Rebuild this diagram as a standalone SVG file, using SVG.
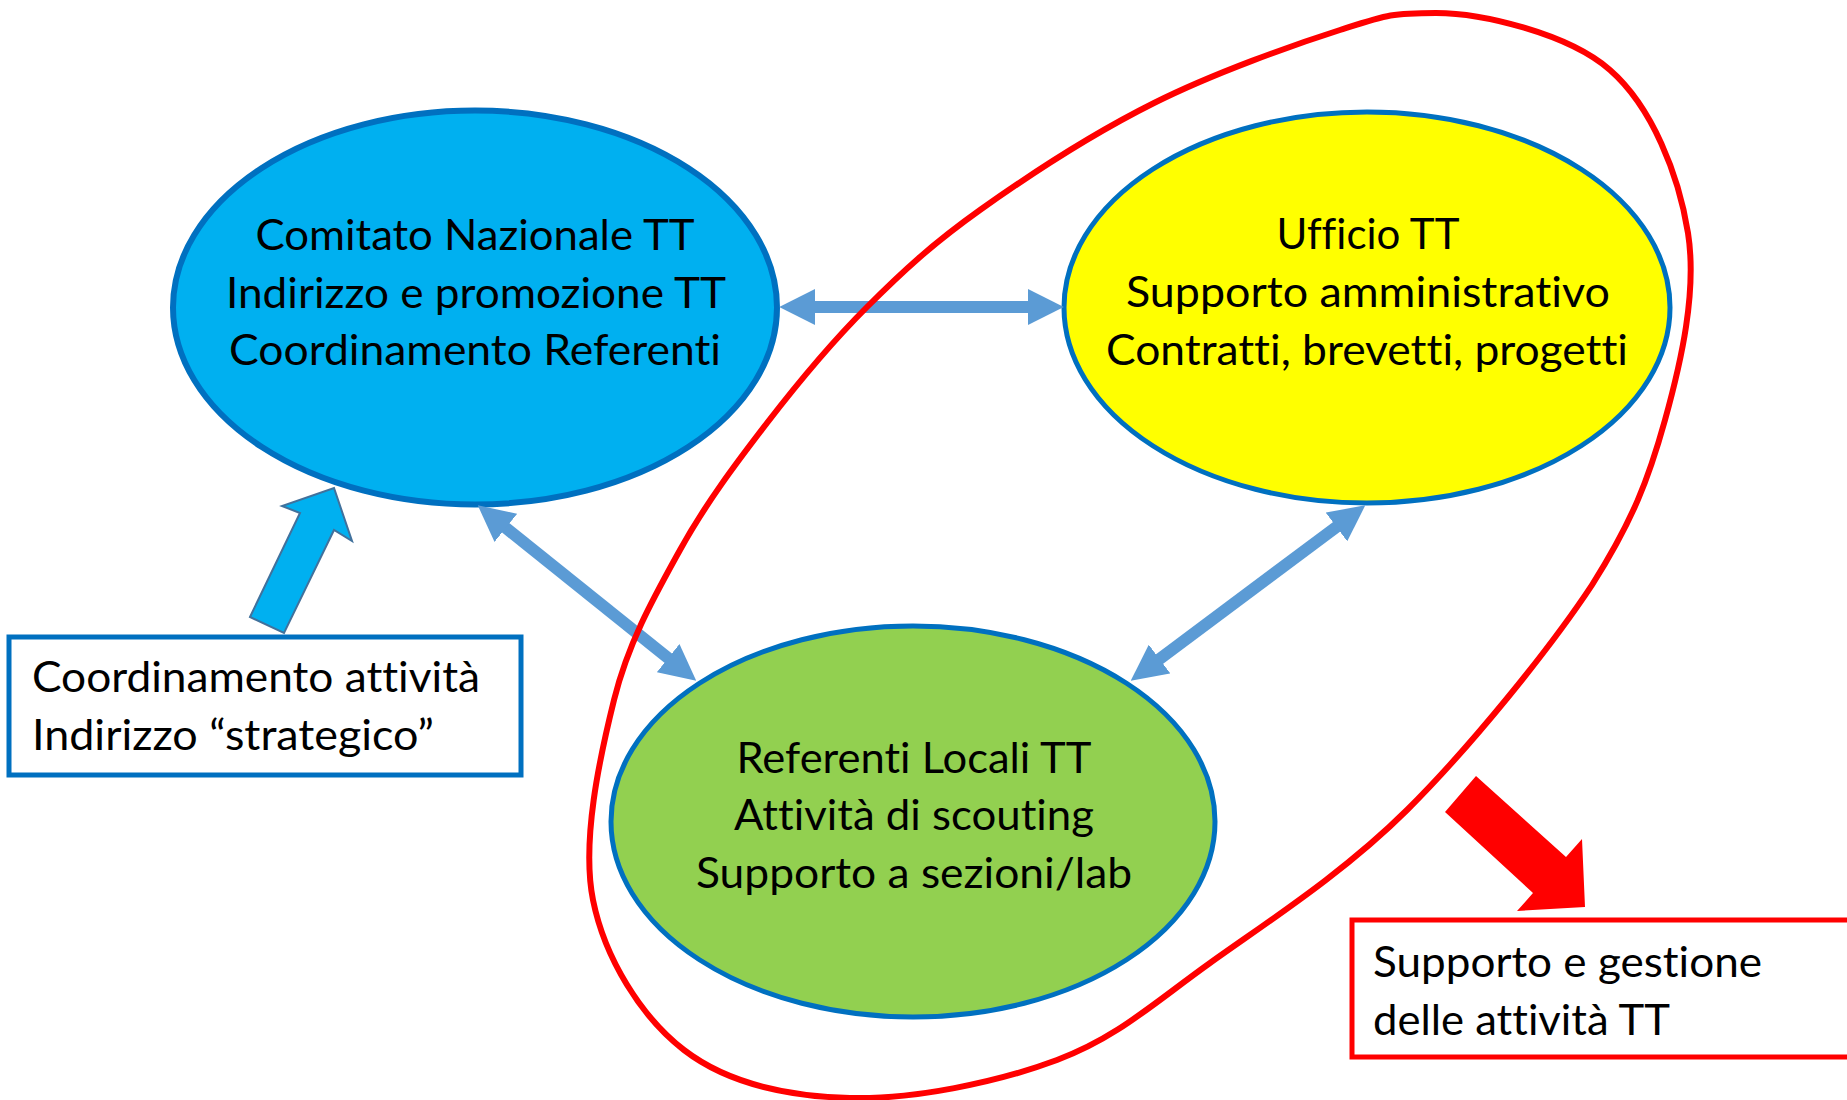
<svg xmlns="http://www.w3.org/2000/svg" width="1847" height="1100" viewBox="0 0 1847 1100">
  <style>
    .lbl { font-family: Lato, "Liberation Sans", Arial, sans-serif; font-size: 42px; fill: #000000; font-variant-ligatures: none; font-feature-settings: "liga" 0, "clig" 0; }
    .mid { text-anchor: middle; }
    .node { stroke: #0070C0; }
    .conn { stroke: #5B9BD5; stroke-width: 12; fill: none; }
  </style>
  <defs>
    <marker id="head" viewBox="0 0 3 3" refX="0.1" refY="1.5" markerWidth="3" markerHeight="3" markerUnits="strokeWidth" orient="auto-start-reverse">
      <path d="M0,0 L3,1.5 L0,3 z" fill="#5B9BD5"/>
    </marker>
  </defs>
  <rect width="1847" height="1100" fill="#FFFFFF"/>

  <g id="node-comitato">
    <ellipse class="node" cx="475" cy="307.5" rx="302" ry="197" fill="#00B0F0" stroke-width="6"/>
    <text class="lbl mid" x="475" y="250" textLength="439" lengthAdjust="spacingAndGlyphs">Comitato Nazionale TT</text>
    <text class="lbl mid" x="476" y="308" textLength="500" lengthAdjust="spacingAndGlyphs">Indirizzo e promozione TT</text>
    <text class="lbl mid" x="475" y="365" textLength="492" lengthAdjust="spacingAndGlyphs">Coordinamento Referenti</text>
  </g>

  <g id="node-ufficio">
    <ellipse class="node" cx="1367" cy="307.5" rx="303" ry="195.5" fill="#FFFF00" stroke-width="5"/>
    <text class="lbl mid" x="1368" y="249" textLength="183" lengthAdjust="spacingAndGlyphs">Ufficio TT</text>
    <text class="lbl mid" x="1368" y="307" textLength="484" lengthAdjust="spacingAndGlyphs">Supporto amministrativo</text>
    <text class="lbl mid" x="1367" y="365" textLength="522" lengthAdjust="spacingAndGlyphs">Contratti, brevetti, progetti</text>
  </g>

  <g id="node-referenti">
    <ellipse class="node" cx="913" cy="821.5" rx="302" ry="195.5" fill="#92D050" stroke-width="5"/>
    <text class="lbl mid" x="914" y="773" textLength="355" lengthAdjust="spacingAndGlyphs">Referenti Locali TT</text>
    <text class="lbl mid" x="914" y="830" textLength="360" lengthAdjust="spacingAndGlyphs">Attività di scouting</text>
    <text class="lbl mid" x="914" y="888" textLength="436" lengthAdjust="spacingAndGlyphs">Supporto a sezioni/lab</text>
  </g>

  <g id="connectors">
    <line class="conn" x1="814" y1="307" x2="1029" y2="307" marker-start="url(#head)" marker-end="url(#head)"/>
    <line class="conn" x1="504.9" y1="527.1" x2="669.1" y2="658.9" marker-start="url(#head)" marker-end="url(#head)"/>
    <line class="conn" x1="1337.4" y1="526.2" x2="1158.6" y2="659.8" marker-start="url(#head)" marker-end="url(#head)"/>
  </g>

  <g id="group-outline">
    <path d="M1436,13 C1481,13 1568,33.3 1610,70 C1652,106.7 1678.8,174.7 1688,233 C1697.2,291.3 1681.3,361.3 1665,420 C1648.7,478.7 1633,520 1592,585 C1549,650 1470.3,747 1407,810 C1343.7,873 1268.3,921.3 1210,963 C1151.7,1004.7 1117,1037.5 1057,1060 C997,1082.5 912.2,1099.7 850,1098 C787.8,1096.3 726.8,1083 684,1050 C641.2,1017 604.7,958.3 593,900 C581.3,841.7 599.5,758.3 614,700 C628.5,641.7 654.5,596.2 680,550 C705.5,503.8 735.8,463.5 767,423 C798.2,382.5 831.5,342.5 867,307 C902.5,271.5 932.2,244 980,210 C1027.8,176 1094,133 1154,103 C1214,73 1293,45 1340,30 C1387,15 1391,13 1436,13 Z" fill="none" stroke="#FF0000" stroke-width="6"/>
  </g>

  <g id="node-coordinamento">
    <polygon points="250,617 300,513 282,506 334,488 352,541 334,530 284,633" fill="#00B0F0" stroke="#41719C" stroke-width="2" stroke-linejoin="miter"/>
    <rect x="9" y="637" width="512" height="138" fill="#FFFFFF" stroke="#0070C0" stroke-width="5"/>
    <text class="lbl" x="32" y="692" textLength="448" lengthAdjust="spacingAndGlyphs">Coordinamento attività</text>
    <text class="lbl" x="32" y="750" textLength="402" lengthAdjust="spacingAndGlyphs">Indirizzo “strategico”</text>
  </g>

  <g id="node-supporto">
    <polygon points="1476,776 1566,857 1582,839 1585,907 1517,911 1533,893 1445,812" fill="#FF0000"/>
    <rect x="1352" y="920" width="520" height="137" fill="#FFFFFF" stroke="#FF0000" stroke-width="5"/>
    <text class="lbl" x="1373" y="977" textLength="389" lengthAdjust="spacingAndGlyphs">Supporto e gestione</text>
    <text class="lbl" x="1373" y="1035" textLength="297" lengthAdjust="spacingAndGlyphs">delle attività TT</text>
  </g>
</svg>
